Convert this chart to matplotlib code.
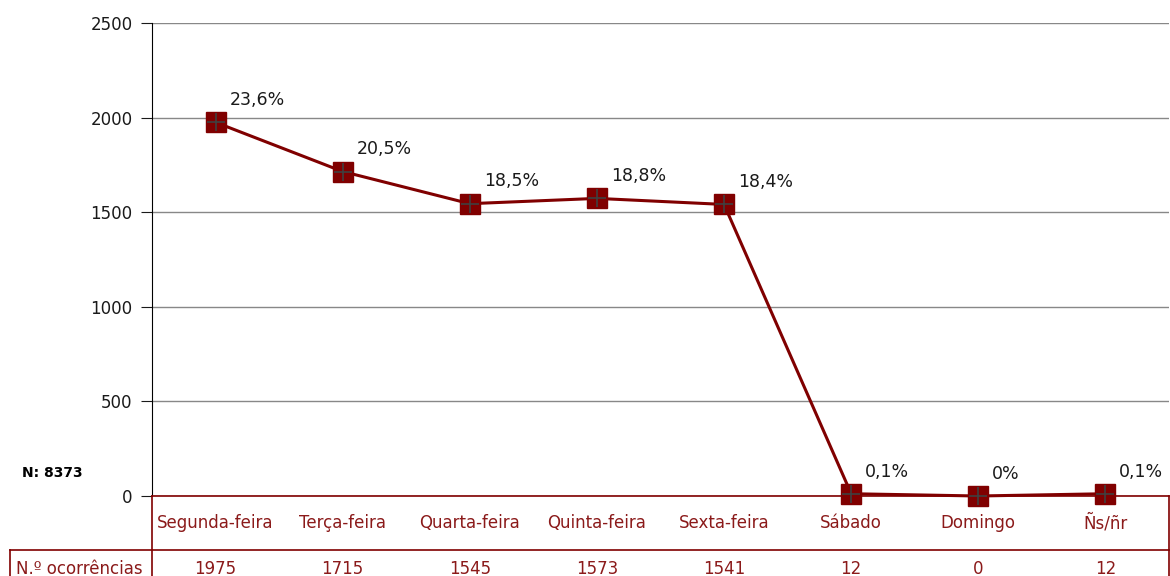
import numpy as np
import matplotlib.pyplot as plt
import matplotlib.transforms as mtransforms
from matplotlib.lines import Line2D

dias = ["Segunda-feira", "Terça-feira", "Quarta-feira", "Quinta-feira",
        "Sexta-feira", "Sábado", "Domingo", "Ñs/ñr"]
ocorrencias = [1975, 1715, 1545, 1573, 1541, 12, 0, 12]
percentagens = ["23,6%", "20,5%", "18,5%", "18,8%", "18,4%", "0,1%", "0%", "0,1%"]
total = "N: 8373"
rotulo_linha = "N.º ocorrências"

vermelho = "#800000"
texto_vermelho = "#8b1a1a"

W, H = 1170, 576
fig = plt.figure(figsize=(W / 100, H / 100), dpi=100)
ax = fig.add_axes([152 / W, (H - 496) / H, (1169 - 152) / W, (496 - 23) / H])

x = np.arange(len(dias))
ax.plot(x, ocorrencias, color=vermelho, lw=2.2, marker="s", ms=15,
        mfc=vermelho, mec=vermelho, zorder=3, clip_on=False)
ax.plot(x, ocorrencias, ls="none", marker="+", ms=13, mew=1.2,
        color="#404040", zorder=4, clip_on=False)

for xi, yi, p in zip(x, ocorrencias, percentagens):
    ax.annotate(p, (xi, yi), xytext=(10, 16), textcoords="offset points",
                fontsize=12.5, color="#1a1a1a", ha="left", va="center",
                annotation_clip=False)

ax.set_xlim(-0.5, len(dias) - 0.5)
ax.set_ylim(0, 2500)
ax.set_yticks(np.arange(0, 2501, 500))
ax.tick_params(axis="y", labelsize=12, length=8, direction="out", pad=6,
               colors="#1a1a1a")
ax.set_xticks([])
ax.grid(axis="y", color="#888888", lw=1)
ax.set_axisbelow(True)
for s in ["top", "right"]:
    ax.spines[s].set_visible(False)
ax.spines["left"].set_color("black")
ax.spines["bottom"].set_color(vermelho)
ax.spines["bottom"].set_linewidth(1.2)

# tabela de dados por baixo do gráfico
def fy(py):
    return (H - py) / H

trans = mtransforms.blended_transform_factory(ax.transData, fig.transFigure)
for xi, d, n in zip(x, dias, ocorrencias):
    fig.text(xi, fy(523), d, transform=trans, ha="center", va="center",
             fontsize=12, color=texto_vermelho)
    fig.text(xi, fy(569), str(n), transform=trans, ha="center", va="center",
             fontsize=12, color=texto_vermelho)

fig.text(16 / W, fy(569), rotulo_linha, ha="left", va="center",
         fontsize=12, color=texto_vermelho)
fig.text(22 / W, fy(473), total, ha="left", va="center",
         fontsize=10, fontweight="bold", color="black")

lc = dict(color=vermelho, lw=1.2, transform=fig.transFigure)
fig.add_artist(Line2D([152 / W, 152 / W], [fy(496), fy(580)], **lc))
fig.add_artist(Line2D([1169 / W, 1169 / W], [fy(496), fy(580)], **lc))
fig.add_artist(Line2D([10 / W, 1169 / W], [fy(550), fy(550)], **lc))
fig.add_artist(Line2D([10 / W, 10 / W], [fy(550), fy(580)], **lc))

fig.savefig("out.png", dpi=100)
